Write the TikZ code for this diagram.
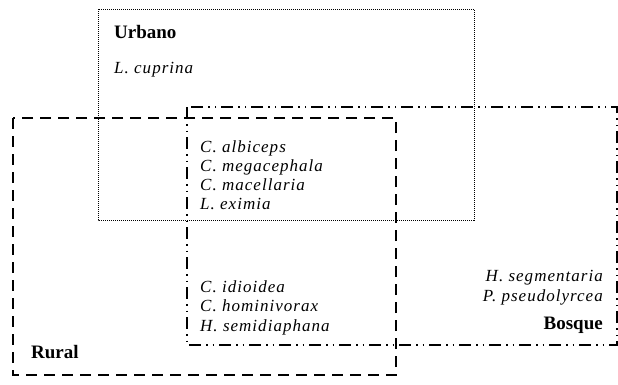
\documentclass[tikz,border=0pt]{standalone}
\usepackage{fontspec}
\setmainfont{Liberation Serif}
\newfontfamily\spfont[LetterSpace=6]{Liberation Serif}
\begin{document}
\begin{tikzpicture}[x=1pt,y=-1pt,
  urb/.style={line width=1pt,dash pattern=on 1pt off 1pt},
  rur/.style={line width=2.6pt,dash pattern=on 11pt off 7pt},
  bos/.style={line width=1.4pt,dash pattern=on 12pt off 5pt on 1.5pt off 5pt on 1.5pt off 5pt},
  sp/.style={font=\fontsize{17}{20}\selectfont\spfont\itshape,inner sep=0pt},
  ttl/.style={font=\fontsize{19}{22}\selectfont\bfseries,inner sep=0pt}]
\useasboundingbox (0,0) rectangle (618,384);
\draw[urb] (98,9) rectangle (474,220);
\draw[bos] (187,107) rectangle (617,345);
\draw[rur] (13,118) rectangle (396,375);
\node[ttl,anchor=base west] (urbano) at (114,38) {Urbano};
\node[sp,anchor=base west] (cup) at (114,73) {L. cuprina};
\node[sp,anchor=base west] (m1) at (200,152) {C. albiceps};
\node[sp,anchor=base west] (m2) at (200,171) {C. megacephala};
\node[sp,anchor=base west] (m3) at (200,190) {C. macellaria};
\node[sp,anchor=base west] (m4) at (200,209.5) {L. eximia};
\node[sp,anchor=base west] (l1) at (200,292) {C. idioidea};
\node[sp,anchor=base west] (l2) at (200,311.5) {C. hominivorax};
\node[sp,anchor=base west] (l3) at (200,331) {H. semidiaphana};
\node[ttl,anchor=base west] (rural) at (31,358) {Rural};
\node[sp,anchor=base east] (b1) at (603,281.5) {H. segmentaria};
\node[sp,anchor=base east] (b2) at (603,301) {P. pseudolyrcea};
\node[ttl,anchor=base east] (bosque) at (603,329) {Bosque};
\end{tikzpicture}
\end{document}
